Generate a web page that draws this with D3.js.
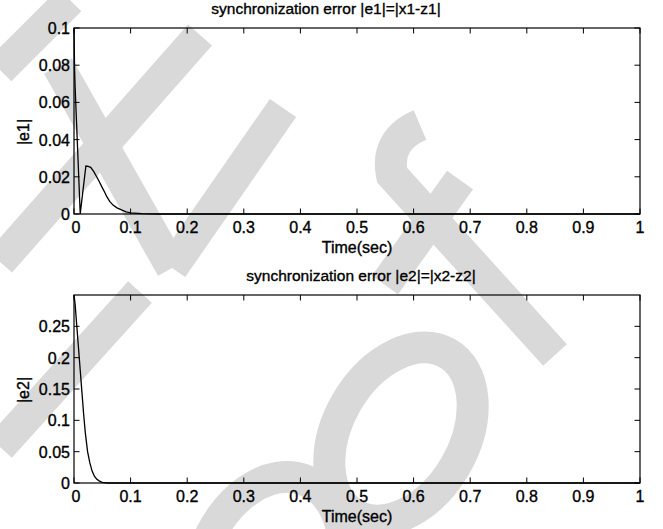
<!DOCTYPE html>
<html>
<head>
<meta charset="utf-8">
<script src="https://cdn.jsdelivr.net/npm/d3@7"></script>
<style>
  body { margin: 0; background: #fff; }
  text { font-family: "Liberation Sans", Arial, sans-serif; fill: #000; stroke: #000; stroke-width: 0.35px; }
</style>
</head>
<body>
<div id="chart"></div>
<script>
// time axis ticks shared by both panels
var xTicks = [0, 0.1, 0.2, 0.3, 0.4, 0.5, 0.6, 0.7, 0.8, 0.9, 1];

// |e1| = |x1 - z1|
var e1Time = [0, 0.001, 0.002, 0.011, 0.016, 0.021, 0.025, 0.0295, 0.035, 0.04, 0.045, 0.049, 0.054, 0.058, 0.063, 0.069, 0.076, 0.084, 0.092, 0.1, 0.12, 0.15, 1];
var e1Value = [0.1, 0.078, 0.068, 0, 0.013, 0.0258, 0.0256, 0.0251, 0.0228, 0.02, 0.0172, 0.0147, 0.0118, 0.0093, 0.0068, 0.0048, 0.0033, 0.0022, 0.0012, 0.0006, 0.0002, 0, 0];
var e1Ticks = [0, 0.02, 0.04, 0.06, 0.08, 0.1];

// |e2| = |x2 - z2|
var e2Time = [0, 0.002, 0.005, 0.008, 0.011, 0.014, 0.017, 0.02, 0.024, 0.028, 0.032, 0.036, 0.04, 0.045, 0.05, 0.06, 1];
var e2Value = [0.3, 0.285, 0.25, 0.215, 0.18, 0.145, 0.11, 0.08, 0.05, 0.032, 0.019, 0.011, 0.0065, 0.003, 0.001, 0, 0];
var e2Ticks = [0, 0.05, 0.1, 0.15, 0.2, 0.25];

var W = 663, H = 529;

var svg = d3.select("#chart").append("svg")
    .attr("width", W)
    .attr("height", H);

// grey "proof" watermark strokes behind the plots
var mark = svg.append("g")
    .attr("fill", "none")
    .attr("stroke", "#d9d9d9")
    .attr("stroke-width", 32);

mark.append("path").attr("d", "M70,0 L0,70");
mark.append("path").attr("d", "M200,35 L0,262");
mark.append("path").attr("d", "M58,66 L172,268");
mark.append("path").attr("d", "M283,108 L172,268");
mark.append("path").attr("d", "M140,292 L0,447");
mark.append("path").attr("d", "M420,125 Q385,140 392,175 L555,355");
mark.append("path").attr("d", "M460,180 L385,285");
mark.append("ellipse").attr("cx", 401).attr("cy", 434).attr("rx", 63).attr("ry", 93)
    .attr("transform", "rotate(30,401,434)");
mark.append("ellipse").attr("cx", 270).attr("cy", 574).attr("rx", 70).attr("ry", 100)
    .attr("transform", "rotate(20,270,574)");

function panel(opts) {
    var x = d3.scaleLinear().domain([0, 1]).range([74, 640]);
    var y = d3.scaleLinear().domain(opts.yDomain).range([opts.bottom, opts.top]);

    var g = svg.append("g");
    var tick = 5.5;

    // data line
    var line = d3.line()
        .x(function(d) { return x(d[0]); })
        .y(function(d) { return y(d[1]); });

    g.append("path")
        .datum(d3.zip(opts.time, opts.value))
        .attr("fill", "none")
        .attr("stroke", "#000")
        .attr("stroke-width", 1.3)
        .attr("d", line);

    // box
    g.append("rect")
        .attr("x", x(0)).attr("y", opts.top)
        .attr("width", x(1) - x(0)).attr("height", opts.bottom - opts.top)
        .attr("fill", "none").attr("stroke", "#000").attr("stroke-width", 1.2);

    // x ticks, inward on bottom and top
    xTicks.forEach(function(t) {
        g.append("line").attr("x1", x(t)).attr("x2", x(t))
            .attr("y1", opts.bottom).attr("y2", opts.bottom - tick).attr("stroke", "#000");
        g.append("line").attr("x1", x(t)).attr("x2", x(t))
            .attr("y1", opts.top).attr("y2", opts.top + tick).attr("stroke", "#000");
        g.append("text")
            .attr("x", x(t) + (t === 0 ? 2 : 0)).attr("y", opts.bottom + 19)
            .attr("text-anchor", "middle")
            .style("font-size", "16px")
            .text(d3.format("~g")(t));
    });

    // y ticks, inward on left and right
    opts.yTicks.forEach(function(v) {
        g.append("line").attr("x1", x(0)).attr("x2", x(0) + tick)
            .attr("y1", y(v)).attr("y2", y(v)).attr("stroke", "#000");
        g.append("line").attr("x1", x(1)).attr("x2", x(1) - tick)
            .attr("y1", y(v)).attr("y2", y(v)).attr("stroke", "#000");
        g.append("text")
            .attr("x", 70).attr("y", y(v) + 6)
            .attr("text-anchor", "end")
            .style("font-size", "16px")
            .text(d3.format("~g")(v));
    });

    g.append("text")
        .attr("x", opts.titleX).attr("y", opts.top - 14)
        .attr("text-anchor", "middle")
        .style("font-size", "15.5px")
        .text(opts.title);

    g.append("text")
        .attr("x", 357).attr("y", opts.bottom + 39)
        .attr("text-anchor", "middle")
        .style("font-size", "16px")
        .text("Time(sec)");

    g.append("text")
        .attr("transform", "translate(29," + opts.yLabelY + ") rotate(-90)")
        .attr("text-anchor", "middle")
        .style("font-size", "16px")
        .text(opts.yLabel);
}

panel({
    top: 28, bottom: 214, yDomain: [0, 0.1], yTicks: e1Ticks,
    time: e1Time, value: e1Value,
    title: "synchronization error |e1|=|x1-z1|", titleX: 326,
    yLabel: "|e1|", yLabelY: 132
});

panel({
    top: 295, bottom: 483, yDomain: [0, 0.3], yTicks: e2Ticks,
    time: e2Time, value: e2Value,
    title: "synchronization error |e2|=|x2-z2|", titleX: 361,
    yLabel: "|e2|", yLabelY: 390
});
</script>
</body>
</html>
